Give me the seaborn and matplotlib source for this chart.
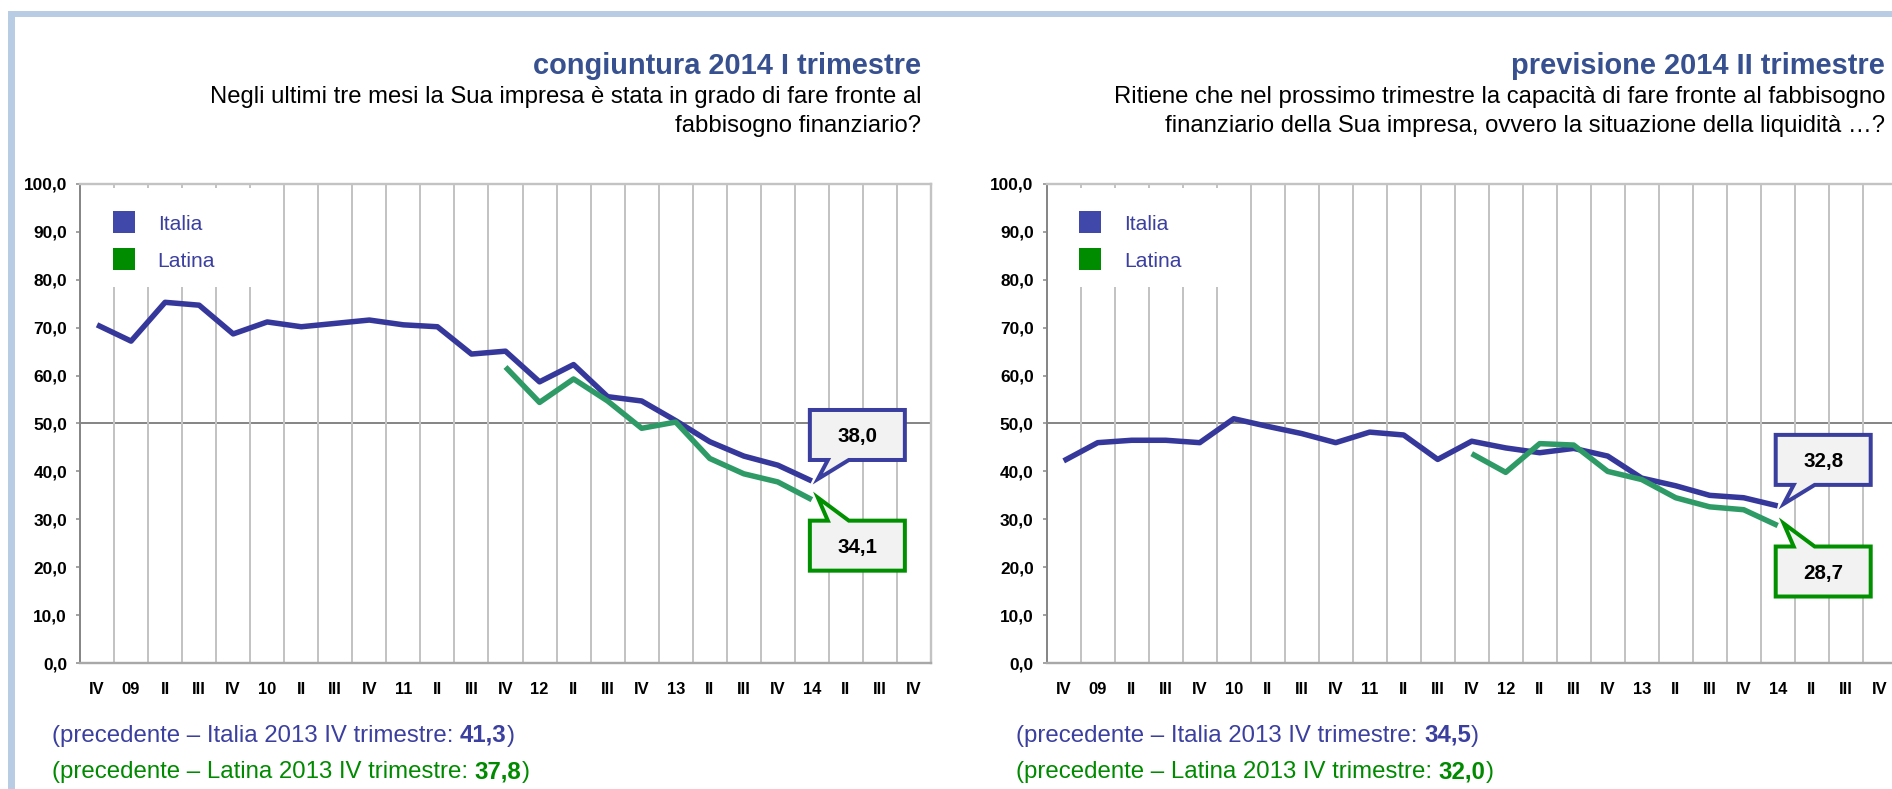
import numpy as np
import pandas as pd
import seaborn as sns
import matplotlib.pyplot as plt
import matplotlib.transforms as mtransforms
from matplotlib.lines import Line2D
from matplotlib.patches import PathPatch, Rectangle
from matplotlib.path import Path

sns.set_theme(style="white")
plt.rcParams["font.family"] = ["Liberation Sans", "DejaVu Sans"]

# ---------------------------------------------------------------- data
quarters = ["IV", "09", "II", "III", "IV", "10", "II", "III", "IV", "11", "II", "III",
            "IV", "12", "II", "III", "IV", "13", "II", "III", "IV", "14", "II", "III", "IV"]

italia_congiuntura = [70.6, 67.2, 75.3, 74.7, 68.7, 71.2, 70.2, 70.9, 71.6, 70.6, 70.2,
                      64.5, 65.1, 58.7, 62.3, 55.6, 54.7, 50.6, 46.2, 43.2, 41.3, 38.0]
latina_congiuntura = [61.8, 54.4, 59.3, 54.7, 49.0, 50.3, 42.7, 39.5, 37.8, 34.1]

italia_previsione = [42.2, 46.0, 46.5, 46.5, 46.0, 51.0, 49.4, 47.9, 46.0, 48.2, 47.6,
                     42.5, 46.3, 44.9, 43.9, 44.8, 43.2, 38.6, 37.0, 35.0, 34.5, 32.8]
latina_previsione = [43.7, 39.8, 45.8, 45.5, 40.0, 38.3, 34.5, 32.6, 32.0, 28.7]

latina_start = 12      # the Latina series starts at 2011 IV
previous_idx = 20      # 2013 IV trimestre

y_ticks = [0, 10, 20, 30, 40, 50, 60, 70, 80, 90, 100]
series_names = ["Italia", "Latina"]
previous_label = "2013 IV trimestre"

titles = ["congiuntura 2014 I trimestre", "previsione 2014 II trimestre"]
questions = [
    ["Negli ultimi tre mesi la Sua impresa è stata in grado di fare fronte al",
     "fabbisogno finanziario?"],
    ["Ritiene che nel prossimo trimestre la capacità di fare fronte al fabbisogno",
     "finanziario della Sua impresa, ovvero la situazione della liquidità …?"],
]

# -------------------------------------------------------------- styles
line_colors = {"Italia": "#35389a", "Latina": "#2e9a66"}
legend_colors = {"Italia": "#4049a9", "Latina": "#008c00"}
text_colors = {"Italia": "#3b3f9f", "Latina": "#008a00"}
callout_edges = {"Italia": "#3a3e9e", "Latina": "#009000"}
title_color = "#37508f"
frame_color = "#b8cce4"
grid_color = "#c3c3c3"
axis_color = "#878787"


def fmt(v):
    return f"{v:.1f}".replace(".", ",")


W, H, DPI = 1892, 789, 100
PT = 72 / DPI          # points per pixel
fig = plt.figure(figsize=(W / DPI, H / DPI), dpi=DPI, facecolor="white")


def fig_x(px):
    return px / W


def fig_y(py):
    return 1 - py / H


# light blue frame around the page
fig.add_artist(Rectangle((fig_x(8), 0), 7 / W, fig_y(11), transform=fig.transFigure,
                         facecolor=frame_color, edgecolor="none"))
fig.add_artist(Rectangle((fig_x(8), fig_y(17)), 1 - fig_x(8), 6 / H,
                         transform=fig.transFigure, facecolor=frame_color, edgecolor="none"))

AX_TOP, AX_BOTTOM = 184, 663
panels = [
    dict(left=80, width=851, italia=italia_congiuntura, latina=latina_congiuntura,
         title_right=921, foot_left=52),
    dict(left=1046.7, width=850, italia=italia_previsione, latina=latina_previsione,
         title_right=1885, foot_left=1016),
]


def callout(ax, x, y, text, edge, side):
    """Speech bubble anchored at a data point (side=+1 above, -1 below)."""
    gap, h, xl, xr, b1, b2 = 21, 50, -2, 93, 16, 37
    tip = (6, 2)
    yb, yt = side * gap, side * (gap + h)
    verts = [(xl, yb), (b1, yb), tip, (b2, yb), (xr, yb), (xr, yt), (xl, yt), (xl, yb)]
    codes = [Path.MOVETO] + [Path.LINETO] * 6 + [Path.CLOSEPOLY]
    trans = mtransforms.Affine2D() + mtransforms.ScaledTranslation(x, y, ax.transData)
    patch = PathPatch(Path(verts, codes), transform=trans, facecolor="#f2f2f2",
                      edgecolor=edge, linewidth=4 * PT, joinstyle="miter",
                      zorder=5, clip_on=False)
    ax.add_patch(patch)
    ax.annotate(text, xy=(x, y), xytext=((xl + xr) / 2, side * (gap + h / 2)),
                textcoords="offset pixels", ha="center", va="center_baseline",
                fontsize=20.5 * PT, fontweight="bold", color="black", zorder=6)


for i, p in enumerate(panels):
    ax = fig.add_axes([fig_x(p["left"]), fig_y(AX_BOTTOM), p["width"] / W,
                       (AX_BOTTOM - AX_TOP) / H])
    pos_it = np.arange(len(p["italia"]))
    pos_la = np.arange(len(p["latina"])) + latina_start
    df = pd.DataFrame({
        "pos": np.concatenate([pos_it, pos_la]),
        "valore": np.concatenate([p["italia"], p["latina"]]),
        "serie": ["Italia"] * len(pos_it) + ["Latina"] * len(pos_la),
    })
    sns.lineplot(data=df, x="pos", y="valore", hue="serie", hue_order=series_names,
                 palette=line_colors, linewidth=5.5 * PT, ax=ax, legend=False, sort=False,
                 solid_joinstyle="round", solid_capstyle="butt")

    ax.set_xlim(-0.5, len(quarters) - 0.5)
    ax.set_ylim(0, 100)
    ax.set_xlabel("")
    ax.set_ylabel("")
    ax.set_facecolor("white")

    ax.set_xticks(range(len(quarters)))
    ax.set_xticklabels(quarters, fontsize=16.5 * PT, fontweight="bold", color="black")
    ax.set_xticks(np.arange(0.5, len(quarters) - 1, 1), minor=True)
    ax.xaxis.grid(True, which="minor", color=grid_color, linewidth=2 * PT)
    ax.xaxis.grid(False, which="major")
    ax.yaxis.grid(False)
    ax.tick_params(axis="x", which="both", length=0, pad=14)

    ax.set_yticks(y_ticks)
    ax.set_yticklabels([fmt(v) for v in y_ticks], fontsize=17.3 * PT,
                       fontweight="bold", color="black")
    ax.tick_params(axis="y", left=True, length=4 * PT, width=1.5 * PT,
                   color=axis_color, pad=9 * PT, direction="out")

    ax.spines["left"].set_color(axis_color)
    ax.spines["left"].set_linewidth(2 * PT)
    ax.spines["bottom"].set_color("#a8a8a8")
    ax.spines["bottom"].set_linewidth(2.4 * PT)
    for s in ("top", "right"):
        ax.spines[s].set_color(grid_color)
        ax.spines[s].set_linewidth(2.4 * PT)

    # horizontal axis crossing at 50
    sec = ax.secondary_xaxis(0.5)
    sec.set_xticks(np.arange(0.5, len(quarters) - 1, 1))
    sec.tick_params(axis="x", which="both", top=True, bottom=False, labeltop=False,
                    labelbottom=False, direction="in", length=4 * PT,
                    width=1.5 * PT, color=axis_color)
    sec.spines["top"].set_color(axis_color)
    sec.spines["top"].set_linewidth(2 * PT)

    # legend on a white patch that hides the grid behind it
    ax.add_patch(Rectangle((0.002, 0.785), 0.207, 0.9916 - 0.785,
                           transform=ax.transAxes, facecolor="white",
                           edgecolor="none", zorder=1))
    handles = [Line2D([], [], marker="s", linestyle="none", markersize=23 * PT,
                      markerfacecolor=legend_colors[n], markeredgewidth=0)
               for n in series_names]
    ax.legend(handles, series_names, loc="upper left",
              bbox_to_anchor=(26.7 / p["width"], 0.936), frameon=False,
              fontsize=21 * PT, labelcolor=text_colors["Italia"],
              borderpad=0, borderaxespad=0, handlelength=1.6,
              handletextpad=0.83, labelspacing=0.85)

    # callouts on the last value of each series
    last_it = len(p["italia"]) - 1
    last_la = latina_start + len(p["latina"]) - 1
    callout(ax, last_it, p["italia"][-1], fmt(p["italia"][-1]), callout_edges["Italia"], +1)
    callout(ax, last_la, p["latina"][-1], fmt(p["latina"][-1]), callout_edges["Latina"], -1)

    # titles
    fig.text(fig_x(p["title_right"]), fig_y(74.3), titles[i], ha="right", va="baseline",
             fontsize=29 * PT, fontweight="bold", color=title_color)
    for line, base in zip(questions[i], (103, 132)):
        fig.text(fig_x(p["title_right"]), fig_y(base), line, ha="right", va="baseline",
                 fontsize=23.9 * PT, color="black")

    # previous-quarter notes
    prev_values = {"Italia": p["italia"][previous_idx],
                   "Latina": p["latina"][previous_idx - latina_start]}
    for name, base in zip(series_names, (741.7, 778)):
        c = text_colors[name]
        t1 = fig.text(fig_x(p["foot_left"]), fig_y(base),
                      f"(precedente – {name} {previous_label}:", ha="left",
                      va="baseline", fontsize=24 * PT, color=c)
        t2 = ax.annotate(fmt(prev_values[name]), xy=(1, 0), xycoords=t1,
                         xytext=(6.7, 0), textcoords="offset pixels",
                         ha="left", va="bottom", fontsize=24 * PT,
                         fontweight="bold", color=c, annotation_clip=False)
        ax.annotate(")", xy=(1, 0), xycoords=t2, ha="left", va="bottom",
                    fontsize=24 * PT, color=c, annotation_clip=False)

fig.savefig("out.png", dpi=DPI, facecolor="white")
